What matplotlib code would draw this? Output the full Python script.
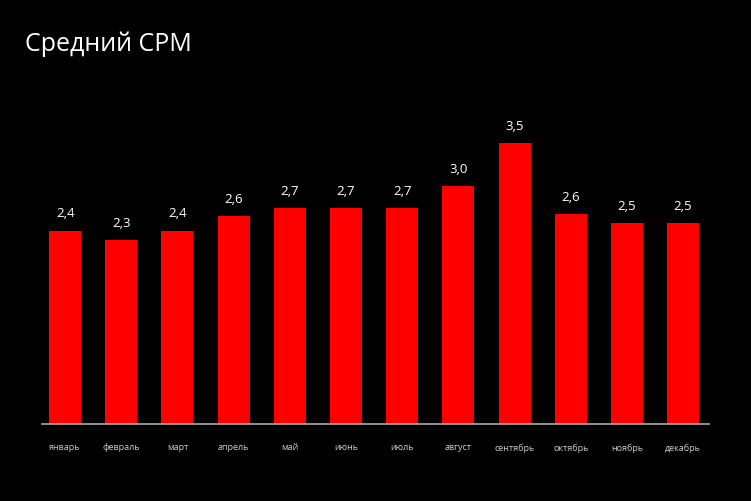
import matplotlib
matplotlib.use('Agg')
import matplotlib.pyplot as plt
import numpy as np

# данные
months = ['январь', 'февраль', 'март', 'апрель', 'май', 'июнь',
          'июль', 'август', 'сентябрь', 'октябрь', 'ноябрь', 'декабрь']
cpm = [2.41, 2.29, 2.41, 2.59, 2.69, 2.69, 2.69, 2.96, 3.50, 2.61, 2.50, 2.50]

plt.rcParams['font.family'] = ['Open Sans', 'DejaVu Sans']

fig = plt.figure(figsize=(7.51, 5.01), dpi=100, facecolor='black')
ax = fig.add_axes([0.056, 0.1537, 0.888, 0.641])
ax.set_facecolor('black')

x = np.arange(len(months))
bars = ax.bar(x, cpm, width=0.57, color='#ff0000')

# подписи значений
for xi, v in zip(x, cpm):
    ax.text(xi, v + 0.13, f'{v:.1f}'.replace('.', ','), ha='center', va='bottom',
            color='white', fontsize=9.5)

ax.set_xlim(-0.41, 11.46)
ax.set_ylim(0, 4)
ax.set_xticks(x)
ax.set_xticklabels(months, fontsize=6.5, color='#cccccc')
ax.tick_params(axis='x', length=0, pad=14)
ax.set_yticks([])
for s in ['top', 'right', 'left']:
    ax.spines[s].set_visible(False)
ax.spines['bottom'].set_color('#aaaaaa')
ax.spines['bottom'].set_linewidth(1.2)

fig.text(25 / 751, 1 - 44 / 501, 'Средний CPM', color='white', fontsize=18,
         ha='left', va='center')

fig.savefig('out.png', dpi=100, facecolor='black')
